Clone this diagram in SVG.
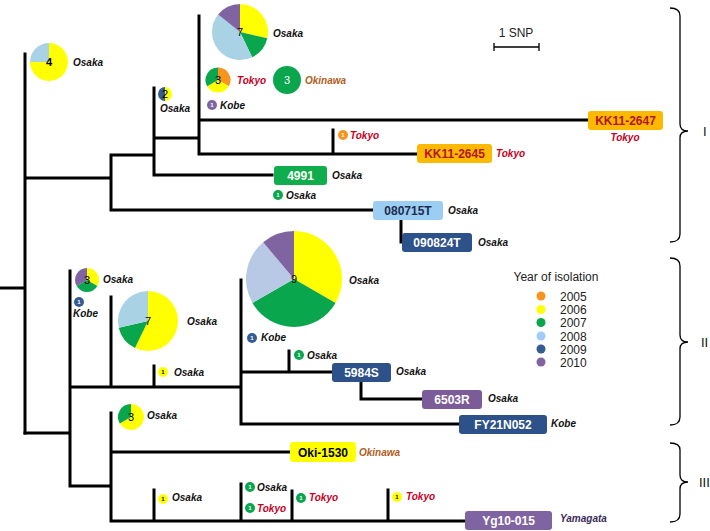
<svg xmlns="http://www.w3.org/2000/svg" width="710" height="531" viewBox="0 0 710 531">
<style>
text{font-family:"Liberation Sans",Arial,sans-serif}
.tree{stroke:#000;stroke-width:3;fill:none;stroke-linecap:square}
.br{stroke:#000;stroke-width:1.3;fill:none}
.loc{font-size:10px;font-weight:bold;font-style:italic;fill:#111}
.tk{fill:#c8001e}
.ok{fill:#b0601e}
.num{font-size:11px;fill:#000;text-anchor:middle}
.box{font-size:12px;font-weight:bold;text-anchor:middle;fill:#fff}
.one{font-size:6px;fill:#fff;text-anchor:middle;font-weight:bold}
.leg{font-size:12px;fill:#222}
.y05{fill:#f7941d}.y06{fill:#ffff00}.y07{fill:#0aa64e}.y08{fill:#a9d3e5}.y09{fill:#355b92}.y10{fill:#8064a2}
</style>
<g id="connectors">
<path class="tree" d="M0,288H25M25,54V433M25,178H111M111,155V210M111,155H154M154,88V175M154,138H199M199,16V154M199,120H588M199,154H417M333,130V154M154,175H272M111,210H373M401,220V242H403"/>
<path class="tree" d="M25,433H70M70,271V486M70,387H241M111,297V387M154,366V387M241,280V424M241,372H332M289,351V372M361,383V399H422M241,424H459M70,486H111M111,413V521M111,452H290M111,521H465M154,490V521M241,484V521M292,491V521M388,490V521"/>
</g>
<g id="pie4">
<path class="y06" d="M49,62L49,43A19,19 0 1 1 30,62Z"/>
<path class="y08" d="M49,62L30,62A19,19 0 0 1 49,43Z"/>
<text class="num" x="49" y="66" font-weight="bold">4</text>
<text class="loc" x="73" y="66">Osaka</text>
</g>
<g id="pie2">
<path class="y06" d="M165,87A7,7 0 0 1 165,101Z"/>
<path class="y09" d="M165,101A7,7 0 0 1 165,87Z"/>
<text class="num" x="165" y="97.5" font-size="9">2</text>
<text class="loc" x="160" y="112">Osaka</text>
</g>
<g id="pie7a">
<path class="y06" d="M240,32L240,4A28,28 0 0 1 267.3,38.23Z"/>
<path class="y07" d="M240,32L267.3,38.23A28,28 0 0 1 252.15,57.23Z"/>
<path class="y08" d="M240,32L252.15,57.23A28,28 0 0 1 218.11,14.54Z"/>
<path class="y10" d="M240,32L218.11,14.54A28,28 0 0 1 240,4Z"/>
<text class="num" x="240" y="36" font-size="12">7</text>
<text class="loc" x="273" y="37">Osaka</text>
</g>
<g id="pie3tokyo">
<path class="y05" d="M218,80L218,67.5A12.5,12.5 0 0 1 228.83,86.25Z"/>
<path class="y06" d="M218,80L228.83,86.25A12.5,12.5 0 0 1 207.17,86.25Z"/>
<path class="y07" d="M218,80L207.17,86.25A12.5,12.5 0 0 1 218,67.5Z"/>
<text class="num" x="218" y="84" font-size="10">3</text>
<text class="loc tk" x="237" y="84">Tokyo</text>
</g>
<g id="pie3okinawa">
<circle class="y07" cx="287" cy="80" r="14"/>
<text class="num" x="287" y="84" font-size="10" fill="#fff" style="fill:#fff">3</text>
<text class="loc ok" x="305" y="84">Okinawa</text>
</g>
<g id="kobe1a">
<circle class="y10" cx="212" cy="105" r="5"/>
<text class="one" x="212" y="107">1</text>
<text class="loc" x="220" y="109">Kobe</text>
</g>
<g id="tokyo1a">
<circle class="y05" cx="343" cy="135" r="5"/>
<text class="one" x="343" y="137">1</text>
<text class="loc tk" x="350" y="139">Tokyo</text>
</g>
<g id="KK11-2647">
<rect x="588" y="111" width="75" height="19" rx="3" fill="#fbb900"/>
<text class="box" x="625.5" y="125" style="fill:#b4141e">KK11-2647</text>
<text class="loc tk" x="625" y="141" text-anchor="middle">Tokyo</text>
</g>
<g id="KK11-2645">
<rect x="417" y="144" width="75" height="19" rx="3" fill="#fbb900"/>
<text class="box" x="454.5" y="158" style="fill:#b4141e">KK11-2645</text>
<text class="loc tk" x="496" y="157">Tokyo</text>
</g>
<g id="n4991">
<rect x="274" y="166" width="53" height="19" rx="3" fill="#10ad4c"/>
<text class="box" x="300.5" y="180">4991</text>
<text class="loc" x="332" y="179">Osaka</text>
<circle class="y07" cx="278" cy="195" r="5"/>
<text class="one" x="278" y="197">1</text>
<text class="loc" x="286" y="199">Osaka</text>
</g>
<g id="n080715T">
<rect x="373" y="201" width="70" height="19" rx="3" fill="#9ccdf3"/>
<text class="box" x="408" y="215" style="fill:#1c2c4c">080715T</text>
<text class="loc" x="448" y="214">Osaka</text>
</g>
<g id="n090824T">
<rect x="402" y="233" width="70" height="19" rx="3" fill="#2d5189"/>
<text class="box" x="437" y="247">090824T</text>
<text class="loc" x="478" y="246">Osaka</text>
</g>
<g id="scale">
<text x="516" y="37" font-size="12" text-anchor="middle" fill="#222">1 SNP</text>
<path class="br" d="M494,47H539M494,43V51M539,43V51"/>
</g>
<g id="pie3b">
<path class="y06" d="M87,280L87,268A12,12 0 0 1 97.39,286Z"/>
<path class="y07" d="M87,280L97.39,286A12,12 0 0 1 76.61,286Z"/>
<path class="y10" d="M87,280L76.61,286A12,12 0 0 1 87,268Z"/>
<text class="num" x="87" y="284" font-size="10">3</text>
<text class="loc" x="103" y="283">Osaka</text>
</g>
<g id="kobe1b">
<circle class="y09" cx="79" cy="302" r="5"/>
<text class="one" x="79" y="304">1</text>
<text class="loc" x="73" y="317">Kobe</text>
</g>
<g id="pie7b">
<path class="y06" d="M148,321L148,291A30,30 0 1 1 134.98,348.03Z"/>
<path class="y07" d="M148,321L134.98,348.03A30,30 0 0 1 118.75,327.68Z"/>
<path class="y08" d="M148,321L118.75,327.68A30,30 0 0 1 148,291Z"/>
<text class="num" x="148" y="325" font-size="12">7</text>
<text class="loc" x="187" y="325">Osaka</text>
</g>
<g id="osaka1b">
<circle class="y06" cx="163" cy="372" r="5"/>
<text class="one" x="163" y="374" style="fill:#000">1</text>
<text class="loc" x="174" y="376">Osaka</text>
</g>
<g id="pie9">
<path class="y06" d="M294,279L294,231A48,48 0 0 1 335.57,303Z"/>
<path class="y07" d="M294,279L335.57,303A48,48 0 0 1 252.43,303Z"/>
<path fill="#b7c9e4" d="M294,279L252.43,303A48,48 0 0 1 263.15,242.23Z"/>
<path class="y10" d="M294,279L263.15,242.23A48,48 0 0 1 294,231Z"/>
<text class="num" x="294" y="283" font-size="12">9</text>
<text class="loc" x="349" y="284">Osaka</text>
</g>
<g id="kobe1c">
<circle class="y09" cx="252" cy="338" r="5"/>
<text class="one" x="252" y="340">1</text>
<text class="loc" x="261" y="341">Kobe</text>
</g>
<g id="osaka1c">
<circle class="y07" cx="299" cy="355" r="5"/>
<text class="one" x="299" y="357">1</text>
<text class="loc" x="307" y="359">Osaka</text>
</g>
<g id="n5984S">
<rect x="332" y="363" width="59" height="19" rx="3" fill="#2d5189"/>
<text class="box" x="361.5" y="377">5984S</text>
<text class="loc" x="396" y="375">Osaka</text>
</g>
<g id="n6503R">
<rect x="422" y="390" width="60" height="19" rx="3" fill="#7b5c98"/>
<text class="box" x="452" y="404">6503R</text>
<text class="loc" x="488" y="402">Osaka</text>
</g>
<g id="FY21N052">
<rect x="459" y="415" width="88" height="19" rx="3" fill="#2d5189"/>
<text class="box" x="503" y="429">FY21N052</text>
<text class="loc" x="551" y="427">Kobe</text>
</g>
<g id="pie3c">
<path class="y06" d="M131,417L131,404A13,13 0 1 1 119.74,423.5Z"/>
<path class="y07" d="M131,417L119.74,423.5A13,13 0 0 1 131,404Z"/>
<text class="num" x="131" y="421" font-size="10">3</text>
<text class="loc" x="147" y="419">Osaka</text>
</g>
<g id="Oki-1530">
<rect x="290" y="442" width="66" height="20" rx="3" fill="#ffff00"/>
<text class="box" x="323" y="456.5" style="fill:#000">Oki-1530</text>
<text class="loc ok" x="359" y="456" font-size="12">Okinawa</text>
</g>
<g id="Yg10-015">
<rect x="465" y="511" width="87" height="19" rx="3" fill="#8064a2"/>
<text class="box" x="508.5" y="525">Yg10-015</text>
<text class="loc" x="560" y="522" style="fill:#3a2a5a">Yamagata</text>
</g>
<g id="leaf154">
<circle class="y06" cx="163" cy="499" r="5"/>
<text class="one" x="163" y="501" style="fill:#000">1</text>
<text class="loc" x="172" y="501">Osaka</text>
</g>
<g id="leaf241">
<circle class="y07" cx="250" cy="487" r="5"/>
<text class="one" x="250" y="489">1</text>
<text class="loc" x="257" y="491">Osaka</text>
<circle class="y07" cx="250" cy="508" r="5"/>
<text class="one" x="250" y="510">1</text>
<text class="loc tk" x="257" y="512">Tokyo</text>
</g>
<g id="leaf292">
<circle class="y07" cx="301" cy="498" r="5"/>
<text class="one" x="301" y="500">1</text>
<text class="loc tk" x="309" y="501">Tokyo</text>
</g>
<g id="leaf388">
<circle class="y06" cx="397" cy="497" r="5"/>
<text class="one" x="397" y="499" style="fill:#000">1</text>
<text class="loc tk" x="406" y="500">Tokyo</text>
</g>
<g id="legend">
<text class="leg" x="556" y="281" text-anchor="middle">Year of isolation</text>
<circle class="y05" cx="541" cy="296" r="4.5"/><text class="leg" x="560" y="300.5">2005</text>
<circle class="y06" cx="541" cy="309.5" r="4.5"/><text class="leg" x="560" y="314">2006</text>
<circle class="y07" cx="541" cy="322.5" r="4.5"/><text class="leg" x="560" y="327">2007</text>
<circle fill="#9fcdf7" cx="541" cy="336" r="4.5"/><text class="leg" x="560" y="340.5">2008</text>
<circle class="y09" cx="541" cy="349" r="4.5"/><text class="leg" x="560" y="353.5">2009</text>
<circle class="y10" cx="541" cy="362" r="4.5"/><text class="leg" x="560" y="366.5">2010</text>
</g>
<g id="braces">
<path class="br" d="M670,8Q680,8 680,16V124Q680,131 688,131Q680,131 680,138V234Q680,242 670,242"/>
<path class="br" d="M670,258Q680,258 680,266V335Q680,342 688,342Q680,342 680,349V417Q680,425 670,425"/>
<path class="br" d="M670,443Q680,443 680,450V475Q680,482 688,482Q680,482 680,489V514Q680,522 670,522"/>
<text x="703" y="136" font-size="13" fill="#111">I</text>
<text x="701" y="347" font-size="13" fill="#111">II</text>
<text x="699" y="487" font-size="13" fill="#111">III</text>
</g>
</svg>
